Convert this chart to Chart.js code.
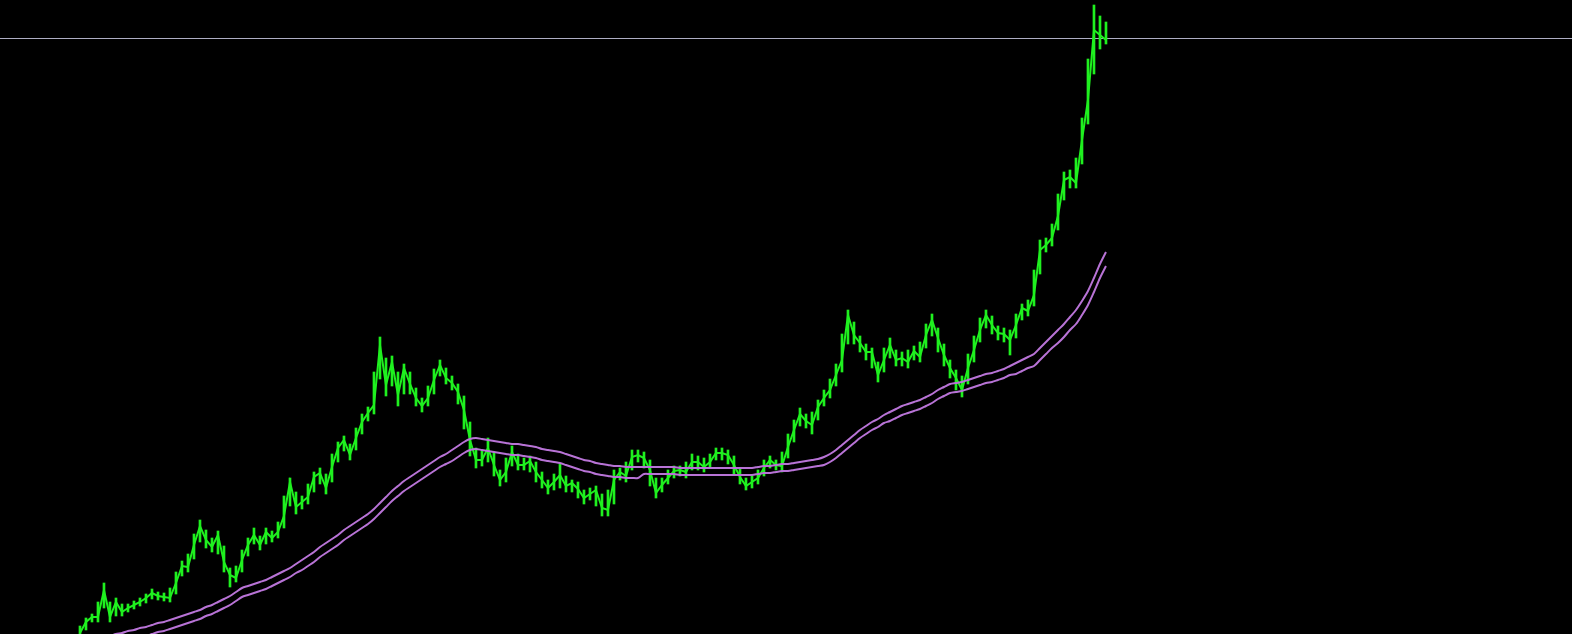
<!DOCTYPE html>
<html>
<head>
<meta charset="utf-8">
<script src="https://cdn.jsdelivr.net/npm/chart.js@4.4.1/dist/chart.umd.min.js"></script>
<style>
    html, body { margin: 0; padding: 0; background: #000; }
    #wrap { width: 1572px; height: 634px; position: relative; }
</style>
</head>
<body>
<div id="wrap"><canvas id="price-chart"></canvas></div>
<script>
// price, one value per bar
const closes = [
    1, 12, 17, 17, 44, 17, 32, 22, 26, 29, 32, 36, 41, 38, 37, 36, 51, 68, 67, 89,
    108, 94, 87, 99, 72, 59, 56, 74, 89, 99, 89, 102, 96, 102, 118, 152, 127, 132, 137, 157,
    161, 146, 167, 186, 194, 179, 196, 212, 221, 229, 289, 249, 272, 239, 266, 250, 236, 228, 236, 254,
    269, 256, 251, 242, 224, 194, 174, 174, 186, 169, 154, 162, 182, 169, 169, 173, 162, 154, 146, 152,
    159, 148, 151, 145, 136, 140, 144, 126, 124, 154, 162, 158, 177, 179, 176, 164, 141, 149, 156, 163,
    164, 162, 172, 172, 167, 172, 181, 181, 179, 169, 157, 148, 152, 156, 166, 174, 169, 168, 187, 204,
    220, 213, 209, 227, 236, 244, 259, 274, 319, 299, 291, 282, 282, 259, 274, 289, 274, 276, 272, 283,
    277, 299, 314, 296, 279, 266, 256, 244, 266, 284, 304, 319, 309, 301, 300, 294, 309, 326, 323, 339,
    384, 389, 396, 418, 454, 457, 451, 494, 534, 604, 599, 594
];

// bar highs
const highs = [
    8, 16, 20, 32, 51, 32, 36, 30, 30, 33, 36, 40, 45, 42, 41, 46, 62, 73, 80, 100,
    114, 104, 96, 103, 88, 66, 68, 84, 96, 106, 98, 106, 103, 112, 138, 156, 142, 138, 150, 162,
    166, 160, 180, 192, 198, 190, 206, 220, 227, 262, 297, 276, 278, 262, 270, 262, 246, 236, 248, 265,
    274, 266, 258, 250, 238, 212, 186, 184, 196, 182, 164, 176, 188, 180, 176, 178, 172, 162, 154, 160,
    170, 158, 154, 152, 144, 146, 148, 140, 144, 164, 166, 172, 184, 184, 182, 174, 156, 156, 164, 168,
    168, 172, 180, 178, 176, 180, 186, 186, 184, 178, 166, 156, 158, 164, 174, 178, 174, 182, 200, 214,
    226, 220, 222, 234, 244, 255, 270, 300, 324, 312, 298, 290, 286, 272, 286, 296, 284, 282, 284, 288,
    292, 310, 320, 306, 290, 274, 264, 258, 280, 298, 316, 324, 318, 308, 306, 304, 320, 330, 334, 364,
    394, 396, 410, 440, 462, 464, 476, 516, 575, 629, 618, 612
];

// bar lows
const lows = [
    -4, 4, 12, 12, 26, 12, 18, 18, 22, 25, 28, 31, 35, 34, 33, 32, 40, 58, 62, 75,
    92, 86, 82, 80, 62, 47, 52, 62, 78, 90, 84, 90, 92, 96, 106, 128, 120, 125, 130, 142,
    150, 140, 152, 172, 183, 174, 184, 200, 213, 220, 255, 238, 248, 228, 240, 240, 228, 222, 228, 240,
    258, 250, 244, 230, 205, 178, 166, 168, 172, 158, 148, 152, 168, 164, 164, 162, 152, 146, 140, 144,
    146, 142, 142, 136, 130, 134, 128, 118, 118, 130, 154, 152, 164, 172, 166, 148, 136, 142, 150, 156,
    158, 156, 164, 164, 162, 166, 174, 174, 170, 160, 150, 144, 146, 150, 158, 166, 164, 162, 176, 192,
    208, 206, 200, 214, 228, 236, 248, 262, 290, 290, 282, 274, 266, 252, 262, 276, 268, 268, 266, 274,
    272, 286, 298, 282, 268, 256, 244, 237, 250, 272, 292, 306, 300, 294, 292, 279, 296, 314, 318, 328,
    360, 382, 388, 404, 434, 446, 446, 470, 510, 560, 585, 590
];

// upper moving average line
const maUpper = [
    -10, -8, -7, -5, -3, -2, 0, 1, 3, 4, 6, 7, 9, 11, 12, 14, 16, 18, 20, 22,
    24, 27, 29, 32, 35, 38, 42, 46, 48, 50, 52, 54, 57, 60, 63, 66, 70, 74, 78, 82,
    87, 91, 95, 99, 104, 108, 112, 116, 120, 125, 131, 137, 143, 148, 153, 157, 161, 165, 169, 173,
    177, 180, 184, 188, 192, 195, 196, 195, 194, 193, 192, 191, 190, 190, 189, 188, 187, 185, 184, 183,
    182, 180, 178, 176, 174, 173, 171, 170, 169, 168, 168, 167, 167, 167, 167, 167, 167, 167, 167, 167,
    166, 166, 166, 166, 166, 166, 166, 166, 166, 166, 166, 166, 166, 167, 168, 168, 169, 170, 170, 171,
    172, 173, 174, 175, 177, 180, 184, 189, 194, 199, 204, 208, 212, 215, 219, 222, 225, 228, 230, 232,
    234, 237, 240, 244, 247, 250, 251, 252, 254, 256, 258, 260, 261, 263, 265, 268, 271, 274, 277, 280,
    286, 292, 298, 304, 310, 317, 324, 333, 343, 356, 370, 382
];

// lower moving average line
const maLower = [
    -19, -17, -16, -14, -12, -11, -9, -8, -6, -5, -3, -2, 0, 2, 3, 5, 7, 9, 11, 13,
    15, 18, 20, 23, 26, 29, 33, 37, 39, 41, 43, 45, 48, 51, 54, 57, 61, 64, 68, 72,
    77, 81, 85, 89, 94, 98, 102, 106, 110, 115, 121, 127, 133, 138, 143, 147, 151, 155, 159, 163,
    167, 170, 173, 177, 181, 184, 185, 184, 183, 182, 181, 180, 179, 179, 178, 177, 176, 174, 173, 172,
    171, 169, 167, 165, 163, 162, 160, 159, 158, 157, 157, 156, 156, 156, 160, 160, 160, 160, 160, 160,
    159, 159, 159, 159, 159, 159, 159, 159, 159, 159, 159, 159, 159, 160, 161, 161, 162, 163, 163, 164,
    165, 166, 167, 168, 169, 172, 176, 181, 186, 191, 196, 200, 204, 207, 211, 213, 216, 219, 221, 223,
    225, 228, 231, 235, 238, 241, 242, 243, 245, 247, 249, 251, 252, 254, 256, 259, 260, 263, 266, 268,
    274, 280, 286, 291, 297, 304, 310, 319, 329, 342, 356, 368
];

// horizontal level line
const levelPrice = 596;

const toPoints = arr => arr.map((v, i) => ({ x: i, y: v }));
const ranges = lows.map((lo, i) => ({ x: i, y: [lo, highs[i]] }));

// draws the level line across the whole chart
const levelLine = {
    id: 'levelLine',
    beforeDatasetsDraw(chart) {
        const { ctx, chartArea, scales } = chart;
        const y = Math.round(scales.y.getPixelForValue(levelPrice)) + 0.5;
        ctx.save();
        ctx.strokeStyle = '#aeaec4';
        ctx.lineWidth = 1;
        ctx.beginPath();
        ctx.moveTo(chartArea.left, y);
        ctx.lineTo(chartArea.right, y);
        ctx.stroke();
        ctx.restore();
    }
};

const green = '#1ff01f';

const ctx = document.getElementById('price-chart');
new Chart(ctx, {
    type: 'line',
    data: {
        datasets: [{
            label: 'MA upper',
            data: toPoints(maUpper),
            borderColor: '#b873d6',
            borderWidth: 2,
            pointRadius: 0,
            tension: 0.3,
            order: 1
        }, {
            label: 'MA lower',
            data: toPoints(maLower),
            borderColor: '#b873d6',
            borderWidth: 2,
            pointRadius: 0,
            tension: 0.3,
            order: 1
        }, {
            label: 'Price',
            data: toPoints(closes),
            borderColor: green,
            borderWidth: 2,
            pointRadius: 0,
            tension: 0,
            order: 2
        }, {
            // high-low range of each bar
            type: 'bar',
            label: 'Range',
            data: ranges,
            backgroundColor: green,
            barThickness: 2,
            order: 3
        }]
    },
    options: {
        responsive: true,
        maintainAspectRatio: false,
        animation: false,
        layout: { padding: 0 },
        plugins: {
            legend: { display: false },
            tooltip: { enabled: false }
        },
        scales: {
            x: {
                type: 'linear',
                display: false,
                offset: false,
                bounds: 'ticks',
                min: -13.33,
                max: 248.67
            },
            y: {
                display: false,
                min: 0,
                max: 634
            }
        }
    },
    plugins: [levelLine]
});
</script>
</body>
</html>
